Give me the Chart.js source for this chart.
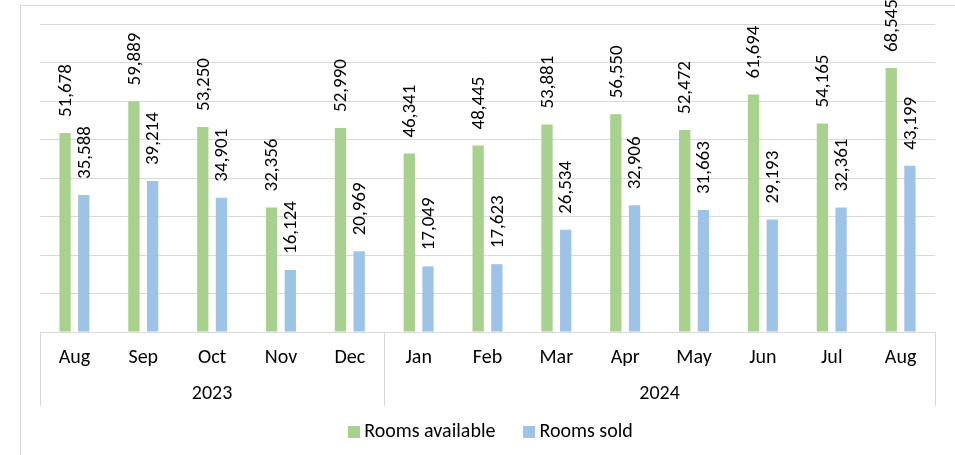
<!DOCTYPE html>
<html><head><meta charset="utf-8">
<script src="https://cdn.jsdelivr.net/npm/chart.js@4/dist/chart.umd.min.js"></script>
<style>html,body{margin:0;padding:0;background:#fff;overflow:hidden}</style>
</head><body><canvas id="c" width="955" height="455"></canvas>
<script>
const months = ['Aug','Sep','Oct','Nov','Dec','Jan','Feb','Mar','Apr','May','Jun','Jul','Aug'];
const years = ['2023','2024'];
const yearSpans = [5, 8];
const roomsAvailable = [51678,59889,53250,32356,52990,46341,48445,53881,56550,52472,61694,54165,68545];
const roomsSold = [35588,39214,34901,16124,20969,17049,17623,26534,32906,31663,29193,32361,43199];
const seriesNames = ['Rooms available','Rooms sold'];
const yMax = 80000, yStep = 10000;

const FONT = 'Carlito, Lato, sans-serif';
const GRID = '#d9d9d9';

const groupPlugin = {
  id: 'groupAxis',
  afterDraw(chart) {
    const ctx = chart.ctx, a = chart.chartArea;
    const bottom = 406;
    ctx.save();
    ctx.strokeStyle = GRID; ctx.lineWidth = 1;
    let idx = 0;
    const bounds = [a.left];
    yearSpans.forEach(n => { idx += n; bounds.push(a.left + (a.right - a.left) * idx / months.length); });
    ctx.beginPath();
    bounds.forEach(b => { const px = Math.round(b) + 0.5; ctx.moveTo(px, a.bottom); ctx.lineTo(px, bottom); });
    ctx.stroke();
    ctx.fillStyle = '#000';
    ctx.font = '20px ' + FONT;
    ctx.textAlign = 'center'; ctx.textBaseline = 'middle';
    years.forEach((y, i) => ctx.fillText(y, (bounds[i] + bounds[i+1]) / 2, 394));
    ctx.restore();
  }
};

const legendPlugin = {
  id: 'customLegend',
  afterDraw(chart) {
    const ctx = chart.ctx;
    const ds = chart.data.datasets;
    const box = 12, gap = 4, itemGap = 28, cx = 490.5, cy = 431.5;
    ctx.save();
    ctx.font = '20px ' + FONT;
    ctx.textBaseline = 'middle'; ctx.textAlign = 'left';
    const widths = ds.map(d => box + gap + ctx.measureText(d.label).width);
    const total = widths.reduce((s, w) => s + w, 0) + itemGap * (ds.length - 1);
    let x = cx - total / 2;
    ds.forEach((d, i) => {
      ctx.fillStyle = d.backgroundColor;
      ctx.fillRect(Math.round(x), Math.round(cy - box / 2), box, box);
      ctx.fillStyle = '#000';
      ctx.fillText(d.label, x + box + gap, cy);
      x += widths[i] + itemGap;
    });
    ctx.restore();
  }
};

const labelPlugin = {
  id: 'barLabels',
  afterDatasetsDraw(chart) {
    const ctx = chart.ctx;
    ctx.save();
    ctx.fillStyle = '#000';
    ctx.font = '19px ' + FONT;
    ctx.textAlign = 'left'; ctx.textBaseline = 'middle';
    chart.data.datasets.forEach((ds, di) => {
      chart.getDatasetMeta(di).data.forEach((el, i) => {
        ctx.save();
        ctx.translate(el.x + 1, el.y - 16);
        ctx.rotate(-Math.PI / 2);
        ctx.fillText(ds.data[i].toLocaleString('en-US'), 0, 0);
        ctx.restore();
      });
    });
    ctx.restore();
  }
};

const framePlugin = {
  id: 'frame',
  beforeDraw(chart) {
    const ctx = chart.ctx;
    ctx.save();
    ctx.fillStyle = '#fff'; ctx.fillRect(0, 0, chart.width, chart.height);
    ctx.strokeStyle = GRID; ctx.lineWidth = 1;
    ctx.strokeRect(20.5, 5.5, 1000, 500);
    ctx.restore();
  }
};

new Chart(document.getElementById('c'), {
  type: 'bar',
  data: {
    labels: months,
    datasets: [
      { label: seriesNames[0], data: roomsAvailable, backgroundColor: '#a9d18e', borderWidth: 0, categoryPercentage: 0.543, barPercentage: 0.605 },
      { label: seriesNames[1], data: roomsSold, backgroundColor: '#9dc3e6', borderWidth: 0, categoryPercentage: 0.543, barPercentage: 0.605 }
    ]
  },
  options: {
    responsive: false, animation: false, devicePixelRatio: 1,
    layout: { padding: { left: 26, right: 0, top: 24, bottom: 58 } },
    plugins: {
      tooltip: { enabled: false },
      legend: { display: false }
    },
    scales: {
      x: {
        grid: { display: false, drawTicks: false }, border: { display: false },
        ticks: { font: { family: FONT, size: 20 }, color: '#000', padding: 14, maxRotation: 0, autoSkip: false },
        afterFit(s) { s.height = 65; }
      },
      y: {
        min: 0, max: yMax,
        ticks: { stepSize: yStep, display: false },
        grid: { color: GRID, drawTicks: false }, border: { display: false },
        afterFit(s) { s.width = 14; }
      },
      yR: {
        position: 'right', display: true,
        ticks: { display: false }, grid: { display: false }, border: { display: false },
        afterFit(s) { s.width = 20; }
      }
    }
  },
  plugins: [framePlugin, labelPlugin, groupPlugin, legendPlugin]
});
</script></body></html>
